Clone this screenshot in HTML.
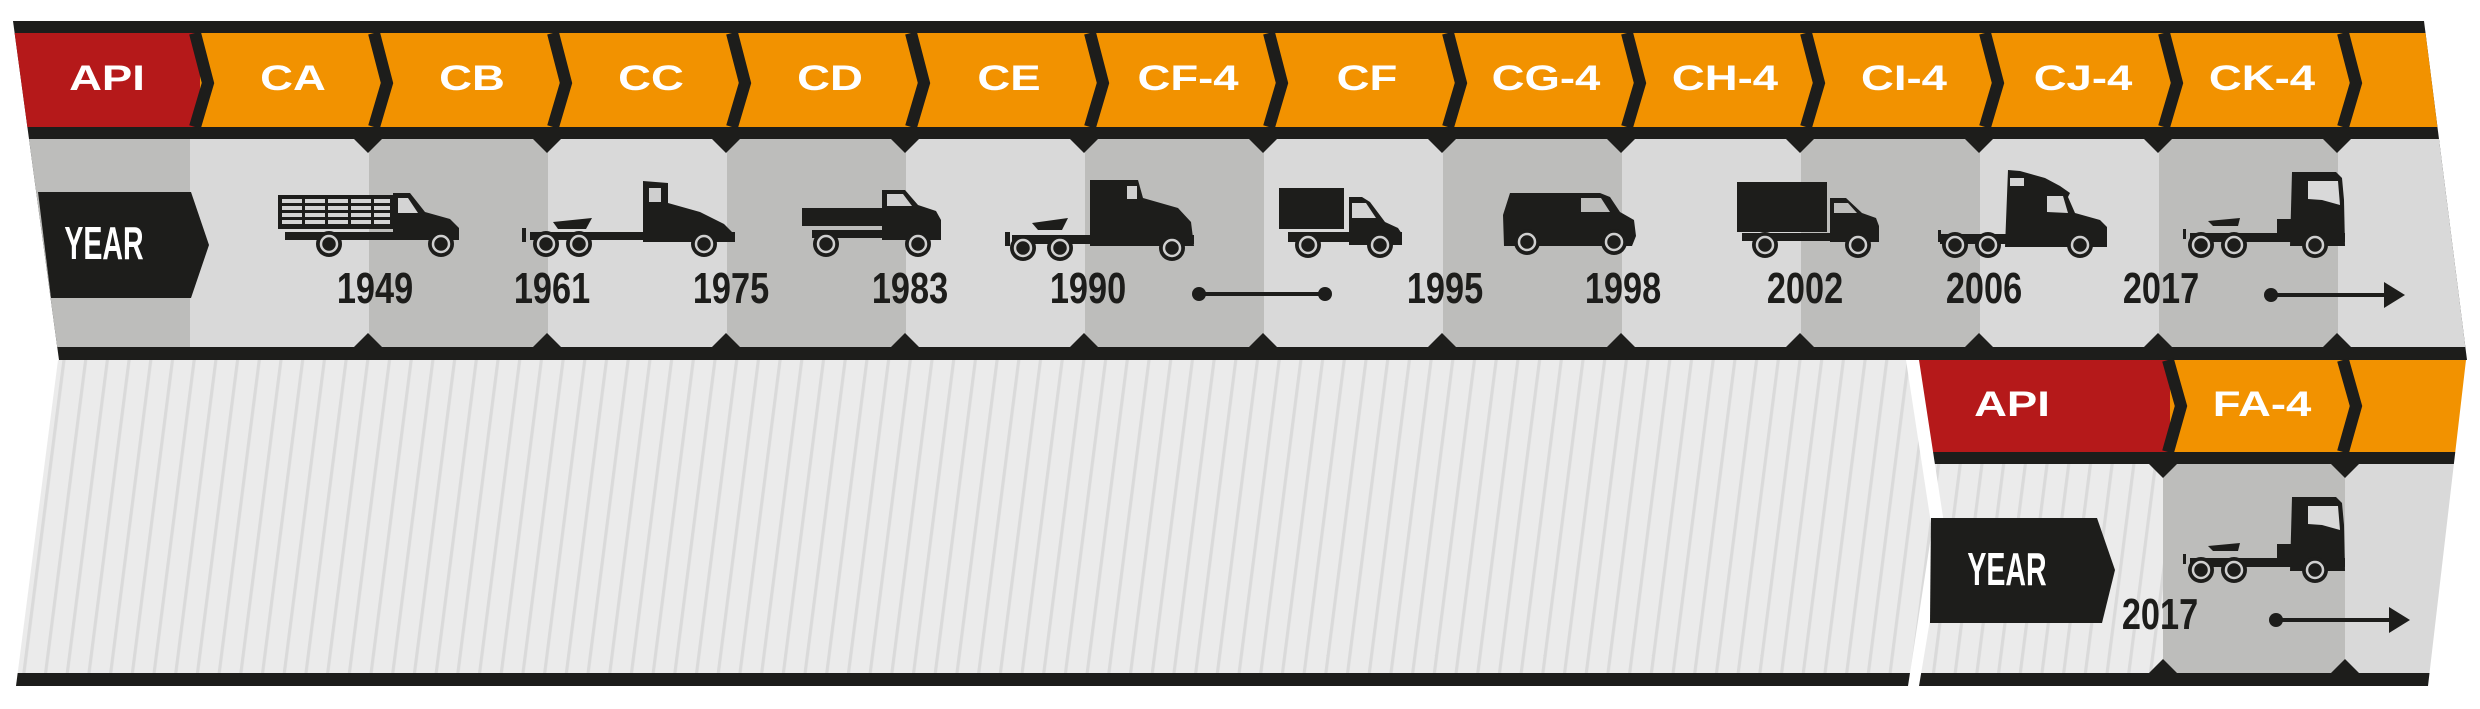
<!DOCTYPE html>
<html><head><meta charset="utf-8"><style>
html,body{margin:0;padding:0;background:#fff;}
svg{display:block;}
.lb{font-family:"Liberation Sans",sans-serif;font-weight:bold;font-size:35px;fill:#fff;}
.yr{font-family:"Liberation Sans",sans-serif;font-weight:bold;font-size:44px;fill:#1d1d1b;}
.ye{font-family:"Liberation Sans",sans-serif;font-weight:bold;font-size:46px;fill:#fff;}
</style></head><body>
<svg width="2480" height="709" viewBox="0 0 2480 709" xmlns="http://www.w3.org/2000/svg">
<defs>
<clipPath id="r1"><polygon points="13,21 2424,21 2467,360 59,360"/></clipPath>
<clipPath id="r2a"><polygon points="58,360 1906,360 1932,530 1908,686 16,686"/></clipPath>
<clipPath id="r2b"><polygon points="1919,360 2466,360 2428,686 1919,686 1945,530"/></clipPath>
<pattern id="st" width="21.7" height="40" patternUnits="userSpaceOnUse" patternTransform="skewX(-7.3)">
<rect width="21.7" height="40" fill="#ebebeb"/><rect x="0" width="3.2" height="40" fill="#dadada"/>
</pattern>
<g id="wh"><circle r="13" fill="#1d1d1b"/><circle r="8" fill="none" stroke="#cfcfcf" stroke-width="2.5"/></g>
</defs>

<!-- ROW 1 -->
<g clip-path="url(#r1)">
<rect x="0" y="0" width="2480" height="400" fill="#1d1d1b"/>
<rect x="0" y="33" width="200" height="94" fill="#b5191a"/>
<rect x="200" y="33" width="2300" height="94" fill="#f29200"/>
<rect x="0" y="139" width="190" height="208" fill="#bdbdbb"/>
<rect x="190" y="139" width="179" height="208" fill="#d9d9d9"/>
<rect x="369" y="139" width="179" height="208" fill="#bdbdbb"/>
<rect x="548" y="139" width="179" height="208" fill="#d9d9d9"/>
<rect x="727" y="139" width="179" height="208" fill="#bdbdbb"/>
<rect x="906" y="139" width="179" height="208" fill="#d9d9d9"/>
<rect x="1085" y="139" width="179" height="208" fill="#bdbdbb"/>
<rect x="1264" y="139" width="179" height="208" fill="#d9d9d9"/>
<rect x="1443" y="139" width="179" height="208" fill="#bdbdbb"/>
<rect x="1622" y="139" width="179" height="208" fill="#d9d9d9"/>
<rect x="1801" y="139" width="179" height="208" fill="#bdbdbb"/>
<rect x="1980" y="139" width="179" height="208" fill="#d9d9d9"/>
<rect x="2159" y="139" width="179" height="208" fill="#bdbdbb"/>
<rect x="2338" y="139" width="200" height="208" fill="#d9d9d9"/>
</g>
<g fill="none" stroke="#1d1d1b" stroke-width="12" stroke-linejoin="miter">
<polyline points="195,33 208,83 195,127"/>
<polyline points="374,33 387,83 374,127"/>
<polyline points="553,33 566,83 553,127"/>
<polyline points="732,33 745,83 732,127"/>
<polyline points="911,33 924,83 911,127"/>
<polyline points="1090,33 1103,83 1090,127"/>
<polyline points="1269,33 1282,83 1269,127"/>
<polyline points="1448,33 1461,83 1448,127"/>
<polyline points="1627,33 1640,83 1627,127"/>
<polyline points="1806,33 1819,83 1806,127"/>
<polyline points="1985,33 1998,83 1985,127"/>
<polyline points="2164,33 2177,83 2164,127"/>
<polyline points="2343,33 2356,83 2343,127"/>
</g>
<g fill="#1d1d1b">
<polygon points="354,139 382,139 368,153"/><polygon points="354,347 382,347 368,333"/>
<polygon points="533,139 561,139 547,153"/><polygon points="533,347 561,347 547,333"/>
<polygon points="712,139 740,139 726,153"/><polygon points="712,347 740,347 726,333"/>
<polygon points="891,139 919,139 905,153"/><polygon points="891,347 919,347 905,333"/>
<polygon points="1070,139 1098,139 1084,153"/><polygon points="1070,347 1098,347 1084,333"/>
<polygon points="1249,139 1277,139 1263,153"/><polygon points="1249,347 1277,347 1263,333"/>
<polygon points="1428,139 1456,139 1442,153"/><polygon points="1428,347 1456,347 1442,333"/>
<polygon points="1607,139 1635,139 1621,153"/><polygon points="1607,347 1635,347 1621,333"/>
<polygon points="1786,139 1814,139 1800,153"/><polygon points="1786,347 1814,347 1800,333"/>
<polygon points="1965,139 1993,139 1979,153"/><polygon points="1965,347 1993,347 1979,333"/>
<polygon points="2144,139 2172,139 2158,153"/><polygon points="2144,347 2172,347 2158,333"/>
<polygon points="2323,139 2351,139 2337,153"/><polygon points="2323,347 2351,347 2337,333"/>
</g>
<g class="lb" text-anchor="middle">
<text transform="translate(107,90) scale(1.3,1)">API</text>
<text transform="translate(293,90) scale(1.3,1)">CA</text>
<text transform="translate(472,90) scale(1.3,1)">CB</text>
<text transform="translate(651,90) scale(1.3,1)">CC</text>
<text transform="translate(830,90) scale(1.3,1)">CD</text>
<text transform="translate(1009,90) scale(1.3,1)">CE</text>
<text transform="translate(1188,90) scale(1.3,1)">CF-4</text>
<text transform="translate(1367,90) scale(1.3,1)">CF</text>
<text transform="translate(1546,90) scale(1.3,1)">CG-4</text>
<text transform="translate(1725,90) scale(1.3,1)">CH-4</text>
<text transform="translate(1904,90) scale(1.3,1)">CI-4</text>
<text transform="translate(2083,90) scale(1.3,1)">CJ-4</text>
<text transform="translate(2262,90) scale(1.3,1)">CK-4</text>
</g>
<polygon points="38,192 191,192 209,245 191,298 51,298" fill="#1d1d1b"/>
<text class="ye" text-anchor="middle" transform="translate(104,259) scale(0.62,1)">YEAR</text>
<g class="yr" text-anchor="middle">
<text transform="translate(375,303) scale(0.78,1)">1949</text>
<text transform="translate(552,303) scale(0.78,1)">1961</text>
<text transform="translate(731,303) scale(0.78,1)">1975</text>
<text transform="translate(910,303) scale(0.78,1)">1983</text>
<text transform="translate(1088,303) scale(0.78,1)">1990</text>
<text transform="translate(1445,303) scale(0.78,1)">1995</text>
<text transform="translate(1623,303) scale(0.78,1)">1998</text>
<text transform="translate(1805,303) scale(0.78,1)">2002</text>
<text transform="translate(1984,303) scale(0.78,1)">2006</text>
<text transform="translate(2161,303) scale(0.78,1)">2017</text>
</g>
<g fill="#1d1d1b" stroke="#1d1d1b">
<line x1="1199" y1="294" x2="1325" y2="294" stroke-width="4"/>
<circle cx="1199" cy="294" r="7" stroke="none"/><circle cx="1325" cy="294" r="7" stroke="none"/>
<line x1="2271" y1="295" x2="2390" y2="295" stroke-width="4"/>
<circle cx="2271" cy="295" r="7" stroke="none"/>
<polygon points="2384,282 2405,295 2384,308" stroke="none"/>
</g>

<g fill="#1d1d1b">
<rect x="278" y="195" width="116" height="34"/>
<g fill="#d4d4d4"><rect x="282" y="199" width="108" height="4"/><rect x="282" y="206" width="108" height="4"/><rect x="282" y="213" width="108" height="4"/><rect x="282" y="220" width="108" height="4"/></g>
<rect x="302" y="197" width="3" height="30"/><rect x="325" y="197" width="3" height="30"/><rect x="348" y="197" width="3" height="30"/><rect x="371" y="197" width="3" height="30"/>
<path d="M393,193 L410,193 L425,212 L450,219 L459,228 L459,240 L393,240 Z"/>
<path d="M398,198 L408,198 L418,213 L398,213 Z" fill="#d4d4d4"/>
<rect x="285" y="232" width="174" height="8"/>
<use href="#wh" x="329" y="244"/><use href="#wh" x="441" y="244"/>
<path d="M643,181 L668,183 L668,203 L700,212 L724,224 L735,235 L735,242 L643,242 Z"/>
<rect x="649" y="188" width="12" height="14" fill="#cfcfcf"/>
<rect x="530" y="232" width="205" height="8"/>
<path d="M553,222 L592,218 L586,229 L558,229 Z"/>
<rect x="522" y="228" width="4" height="14"/>
<use href="#wh" x="546" y="244"/><use href="#wh" x="579" y="244"/><use href="#wh" x="704" y="244"/>
<rect x="802" y="208" width="82" height="18"/>
<path d="M882,190 L905,190 L918,205 L936,211 L941,220 L941,240 L882,240 Z"/>
<path d="M887,194 L903,194 L912,206 L887,206 Z" fill="#cfcfcf"/>
<rect x="812" y="230" width="129" height="8"/>
<use href="#wh" x="826" y="244"/><use href="#wh" x="918" y="244"/>
<path d="M1090,180 L1138,180 L1143,198 L1178,208 L1191,222 L1194,246 L1090,246 Z"/>
<rect x="1127" y="186" width="10" height="13" fill="#cfcfcf"/>
<rect x="1012" y="235" width="182" height="9"/>
<path d="M1032,223 L1068,218 L1062,230 L1038,230 Z"/>
<rect x="1005" y="232" width="5" height="14"/>
<use href="#wh" x="1023" y="248"/><use href="#wh" x="1060" y="248"/><use href="#wh" x="1172" y="248"/>
<rect x="1279" y="188" width="65" height="41"/>
<path d="M1349,197 L1362,197 L1370,202 L1385,222 L1398,228 L1402,234 L1402,245 L1349,245 Z"/>
<path d="M1352,203 L1366,203 L1376,218 L1352,218 Z" fill="#d4d4d4"/>
<rect x="1288" y="232" width="114" height="10"/>
<use href="#wh" x="1308" y="245"/><use href="#wh" x="1380" y="245"/>
<path d="M1510,193 L1600,193 L1610,197 L1620,212 L1634,220 L1636,236 L1632,246 L1504,246 L1503,215 Z"/>
<path d="M1581,198 L1601,198 L1610,212 L1581,212 Z" fill="#bdbdbb"/>
<use href="#wh" x="1527" y="242"/><use href="#wh" x="1614" y="242"/>
<rect x="1737" y="182" width="90" height="50"/>
<path d="M1830,198 L1846,198 L1862,213 L1876,218 L1879,226 L1879,242 L1830,242 Z"/>
<path d="M1834,203 L1848,203 L1857,213 L1834,213 Z" fill="#bdbdbb"/>
<rect x="1742" y="233" width="137" height="8"/>
<use href="#wh" x="1765" y="245"/><use href="#wh" x="1858" y="245"/>
<path d="M2008,170 L2020,171 L2045,178 L2060,186 L2070,193 L2068,197 L2075,213 L2100,220 L2107,227 L2107,247 L2005,247 Z"/>
<rect x="2010" y="178" width="14" height="8" fill="#d4d4d4"/>
<path d="M2047,196 L2063,196 L2068,213 L2047,212 Z" fill="#d4d4d4"/>
<rect x="1940" y="234" width="167" height="10"/>
<rect x="1938" y="230" width="3" height="12"/>
<use href="#wh" x="1955" y="245"/><use href="#wh" x="1988" y="245"/><use href="#wh" x="2080" y="245"/>
<g id="t9">
<path d="M2292,172 L2336,172 L2342,178 L2344,200 L2345,246 L2290,246 Z"/>
<path d="M2308,181 L2338,181 L2340,205 L2322,200 L2308,199 Z" fill="#d9d9d9"/>
<rect x="2190" y="233" width="155" height="9"/>
<path d="M2208,221 L2240,218 L2238,226 L2213,226 Z"/>
<rect x="2277" y="219" width="15" height="14"/>
<rect x="2183" y="229" width="3" height="10"/>
<use href="#wh" x="2201" y="245"/><use href="#wh" x="2234" y="245"/><use href="#wh" x="2315" y="245"/>
</g>
</g>

<g clip-path="url(#r2a)">
<rect x="0" y="360" width="1950" height="313" fill="url(#st)"/>
<rect x="0" y="673" width="1950" height="14" fill="#1d1d1b"/>
</g>
<g clip-path="url(#r2b)">
<rect x="1900" y="360" width="280" height="92" fill="#b5191a"/>
<rect x="2170" y="360" width="320" height="92" fill="#f29200"/>
<rect x="1900" y="452" width="590" height="12" fill="#1d1d1b"/>
<rect x="1900" y="464" width="263" height="209" fill="url(#st)"/>
<rect x="2163" y="464" width="182" height="209" fill="#bdbdbb"/>
<rect x="2345" y="464" width="150" height="209" fill="#d9d9d9"/>
<rect x="1900" y="673" width="590" height="14" fill="#1d1d1b"/>
</g>
<g fill="none" stroke="#1d1d1b" stroke-width="12">
<polyline points="2168,360 2181,406 2168,452"/>
<polyline points="2343,360 2356,406 2343,452"/>
</g>
<g fill="#1d1d1b">
<polygon points="2149,464 2177,464 2163,478"/><polygon points="2149,673 2177,673 2163,659"/>
<polygon points="2331,464 2359,464 2345,478"/><polygon points="2331,673 2359,673 2345,659"/>
</g>
<g class="lb" text-anchor="middle">
<text transform="translate(2012,416) scale(1.3,1)">API</text>
<text transform="translate(2262,416) scale(1.3,1)">FA-4</text>
</g>
<polygon points="1931,518 2097,518 2115,570 2102,623 1930,623" fill="#1d1d1b"/>
<text class="ye" text-anchor="middle" transform="translate(2007,585) scale(0.62,1)">YEAR</text>
<text class="yr" text-anchor="middle" transform="translate(2160,629) scale(0.78,1)">2017</text>
<g fill="#1d1d1b">
<use href="#t9" x="0" y="325"/>
<line x1="2276" y1="620" x2="2395" y2="620" stroke="#1d1d1b" stroke-width="4"/>
<circle cx="2276" cy="620" r="7"/>
<polygon points="2389,607 2410,620 2389,633"/>
</g>
</svg>
</body></html>
